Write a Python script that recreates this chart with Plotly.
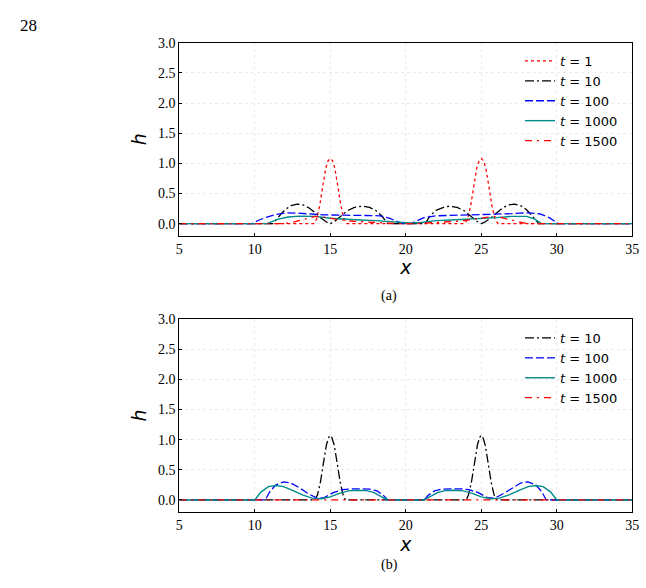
import plotly.graph_objects as go

# ---------------- data (a) ----------------
a_t1_x = [5, 13.9, 14.1, 14.3, 14.5, 14.7, 14.85, 15.0, 15.15, 15.3, 15.5, 15.7, 15.9, 16.1,
          23.9, 24.1, 24.3, 24.5, 24.7, 24.85, 25.0, 25.15, 25.3, 25.5, 25.7, 25.9, 26.1, 35]
a_t1_h = [0, 0, 0.08, 0.3, 0.62, 0.92, 1.04, 1.08, 1.04, 0.92, 0.62, 0.3, 0.08, 0,
          0, 0.08, 0.3, 0.62, 0.92, 1.04, 1.08, 1.04, 0.92, 0.62, 0.3, 0.08, 0, 0]

a_t10_x = [5, 11.2, 11.6, 12.0, 12.4, 12.8, 13.2, 13.6, 14.0, 14.4, 14.8, 15.0, 15.3, 15.7, 16.1,
           16.6, 17.1, 17.6, 18.0, 18.4, 18.8, 21.3, 21.6, 22.0, 22.5, 22.9, 23.4, 23.9, 24.3,
           24.7, 25.0, 25.2, 25.6, 26.0, 26.4, 26.8, 27.2, 27.6, 28.0, 28.4, 28.8, 35]
a_t10_h = [0, 0, 0.12, 0.23, 0.3, 0.325, 0.31, 0.26, 0.18, 0.09, 0.02, 0.0, 0.04, 0.13, 0.21,
           0.27, 0.29, 0.27, 0.22, 0.13, 0.0, 0.0, 0.13, 0.22, 0.27, 0.29, 0.27, 0.21, 0.13,
           0.04, 0.0, 0.02, 0.09, 0.18, 0.26, 0.31, 0.325, 0.3, 0.23, 0.12, 0, 0]

a_t100_x = [5, 9.8, 10.3, 10.8, 11.4, 12.1, 12.8, 13.5, 14.5, 16.0, 17.5, 18.3, 18.9, 19.4, 19.8,
            20.3, 20.7, 21.2, 22.0, 23.5, 25.0, 26.0, 27.0, 27.6, 28.2, 28.9, 29.5, 30.1, 35]
a_t100_h = [0, 0, 0.06, 0.11, 0.15, 0.18, 0.175, 0.16, 0.145, 0.14, 0.14, 0.13, 0.09, 0.04, 0,
            0, 0.05, 0.1, 0.13, 0.14, 0.14, 0.15, 0.165, 0.175, 0.18, 0.16, 0.1, 0, 0]

a_t1000_x = [5, 10.8, 11.5, 12.2, 13.0, 14.0, 15.0, 16.0, 17.0, 18.0, 19.0, 19.7, 20.3,
             21.0, 22.0, 23.0, 24.0, 25.0, 26.0, 27.0, 28.0, 28.5, 29.0, 35]
a_t1000_h = [0, 0, 0.07, 0.11, 0.125, 0.12, 0.09, 0.07, 0.06, 0.05, 0.03, 0.01, 0.01,
             0.02, 0.05, 0.06, 0.07, 0.08, 0.1, 0.12, 0.12, 0.08, 0, 0]

a_t1500_x = [5, 12.0, 12.6, 13.3, 14.0, 14.8, 15.5, 16.5, 18.0, 19.5, 20.5, 22.0, 23.5,
             24.5, 25.2, 26.0, 26.7, 27.4, 28.0, 35]
a_t1500_h = [0, 0, 0.03, 0.08, 0.12, 0.1, 0.07, 0.04, 0.02, 0, 0, 0.02, 0.04,
             0.07, 0.1, 0.12, 0.08, 0.03, 0, 0]

# ---------------- data (b) ----------------
b_t10_x = [5, 13.95, 14.15, 14.35, 14.55, 14.75, 14.9, 15.0, 15.1, 15.25, 15.45, 15.65, 15.85, 16.0,
           24.0, 24.15, 24.35, 24.55, 24.75, 24.9, 25.0, 25.1, 25.25, 25.45, 25.65, 25.85, 26.05, 35]
b_t10_h = [0, 0, 0.08, 0.3, 0.62, 0.92, 1.04, 1.07, 1.04, 0.92, 0.62, 0.3, 0.08, 0,
           0, 0.08, 0.3, 0.62, 0.92, 1.04, 1.07, 1.04, 0.92, 0.62, 0.3, 0.08, 0, 0]

b_t100_x = [5, 10.7, 11.0, 11.4, 11.9, 12.4, 12.9, 13.5, 14.1, 14.6, 15.2, 15.8, 16.4, 17.0, 17.6,
            18.1, 18.5, 18.8, 21.2, 21.5, 21.9, 22.4, 23.0, 23.6, 24.2, 24.8, 25.4, 25.9, 26.5,
            27.1, 27.6, 28.1, 28.6, 29.0, 29.3, 35]
b_t100_h = [0, 0, 0.14, 0.25, 0.3, 0.28, 0.21, 0.11, 0.03, 0.04, 0.12, 0.17, 0.185, 0.185, 0.18,
            0.15, 0.08, 0, 0, 0.08, 0.15, 0.18, 0.185, 0.185, 0.17, 0.12, 0.04, 0.03, 0.11,
            0.21, 0.28, 0.3, 0.25, 0.14, 0, 0]

b_t1000_x = [5, 10.0, 10.4, 10.9, 11.4, 11.9, 12.5, 13.2, 13.8, 14.4, 15.0, 15.6, 16.2, 16.8, 17.4,
             17.9, 18.4, 18.8, 21.2, 21.6, 22.1, 22.6, 23.2, 23.8, 24.4, 25.0, 25.6, 26.2, 26.8,
             27.5, 28.1, 28.6, 29.1, 29.6, 30.0, 35]
b_t1000_h = [0, 0, 0.13, 0.22, 0.24, 0.22, 0.16, 0.08, 0.03, 0.02, 0.05, 0.11, 0.15, 0.16, 0.155,
             0.12, 0.05, 0, 0, 0.05, 0.12, 0.155, 0.16, 0.15, 0.11, 0.05, 0.02, 0.03, 0.08,
             0.16, 0.22, 0.24, 0.22, 0.13, 0, 0]

b_t1500_x = [5, 35]
b_t1500_h = [0, 0]

labels_a = ["<i>t</i> = 1", "<i>t</i> = 10", "<i>t</i> = 100", "<i>t</i> = 1000", "<i>t</i> = 1500"]
labels_b = ["<i>t</i> = 10", "<i>t</i> = 100", "<i>t</i> = 1000", "<i>t</i> = 1500"]

x_ticks = [5, 10, 15, 20, 25, 30, 35]
y_ticks = [0.0, 0.5, 1.0, 1.5, 2.0, 2.5, 3.0]
y_ticktext = ["0.0", "0.5", "1.0", "1.5", "2.0", "2.5", "3.0"]

RED = "#ff0000"
BLACK = "#000000"
BLUE = "#0000ff"
TEAL = "#008b8b"

styles = {
    "t1": dict(color=RED, dash="dot", width=1.3),
    "t10": dict(color=BLACK, dash="9px,3px,2px,3px", width=1.3),
    "t100": dict(color=BLUE, dash="8px,3px", width=1.3),
    "t1000": dict(color=TEAL, dash="solid", width=1.4),
    "t1500": dict(color=RED, dash="7px,5px,2px,5px", width=1.3),
}

fig = go.Figure()

a_series = [(a_t1_x, a_t1_h, "t1"), (a_t10_x, a_t10_h, "t10"), (a_t100_x, a_t100_h, "t100"),
            (a_t1000_x, a_t1000_h, "t1000"), (a_t1500_x, a_t1500_h, "t1500")]
for (xs, hs, key), lab in zip(a_series, labels_a):
    fig.add_trace(go.Scatter(x=xs, y=hs, mode="lines", name=lab, line=styles[key],
                             xaxis="x", yaxis="y", legend="legend"))

b_series = [(b_t10_x, b_t10_h, "t10"), (b_t100_x, b_t100_h, "t100"),
            (b_t1000_x, b_t1000_h, "t1000"), (b_t1500_x, b_t1500_h, "t1500")]
for (xs, hs, key), lab in zip(b_series, labels_b):
    fig.add_trace(go.Scatter(x=xs, y=hs, mode="lines", name=lab, line=styles[key],
                             xaxis="x2", yaxis="y2", legend="legend2"))

W, H = 646, 588
x0, x1 = 179.3 / W, 632.3 / W
ya = (1 - 235.7 / H, 1 - 42.7 / H)
yb = (1 - 512.0 / H, 1 - 319.0 / H)

SERIF = "Liberation Serif"
tickfont = dict(family=SERIF, size=14, color="#000")
titlefont = dict(family="DejaVu Sans", size=19, color="#000")

def xaxis(dom_anchor):
    return dict(domain=[x0, x1], anchor=dom_anchor, range=[5, 35], tickvals=x_ticks,
                ticks="inside", ticklen=3, tickcolor="#000", showline=True, linecolor="#000",
                linewidth=1, mirror=True, showgrid=True, gridcolor="#ebebeb", griddash="dot",
                gridwidth=1, zeroline=False, tickfont=tickfont, automargin=False,
                title=dict(text="<i>x</i>", font=titlefont, standoff=0))

def yaxis(dom, anchor):
    return dict(domain=list(dom), anchor=anchor, range=[-0.2, 3.0], tickvals=y_ticks,
                ticktext=y_ticktext, ticks="inside", ticklen=3, tickcolor="#000",
                showline=True, linecolor="#000", linewidth=1, mirror=True, showgrid=True,
                gridcolor="#ebebeb", griddash="dot", gridwidth=1, zeroline=False,
                tickfont=tickfont, automargin=False,
                title=dict(text="<i>h</i>", font=titlefont, standoff=6))

legfont = dict(family="DejaVu Sans", size=13, color="#000")

fig.update_layout(
    width=W, height=H, margin=dict(l=0, r=0, t=0, b=0, autoexpand=False),
    paper_bgcolor="white", plot_bgcolor="white",
    font=dict(family=SERIF, color="#000"),
    xaxis=xaxis("y"), yaxis=yaxis(ya, "x"),
    xaxis2=xaxis("y2"), yaxis2=yaxis(yb, "x2"),
    legend=dict(x=520 / W, y=1 - 46 / H, xanchor="left", yanchor="top", font=legfont,
                bgcolor="rgba(255,255,255,0)", tracegroupgap=0, itemwidth=30),
    legend2=dict(x=520 / W, y=1 - 323 / H, xanchor="left", yanchor="top", font=legfont,
                 bgcolor="rgba(255,255,255,0)", tracegroupgap=0, itemwidth=30),
    annotations=[
        dict(text="28", x=18 / W, y=1 - 14 / H, xref="paper", yref="paper", showarrow=False,
             font=dict(family=SERIF, size=17, color="#000")),
        dict(text="(a)", x=389 / W, y=1 - 296 / H, xref="paper", yref="paper", showarrow=False,
             font=dict(family=SERIF, size=14, color="#000")),
        dict(text="(b)", x=389 / W, y=1 - 575 / H, xref="paper", yref="paper", showarrow=False,
             font=dict(family=SERIF, size=14, color="#000")),
    ],
)

fig.write_html("out.html")
